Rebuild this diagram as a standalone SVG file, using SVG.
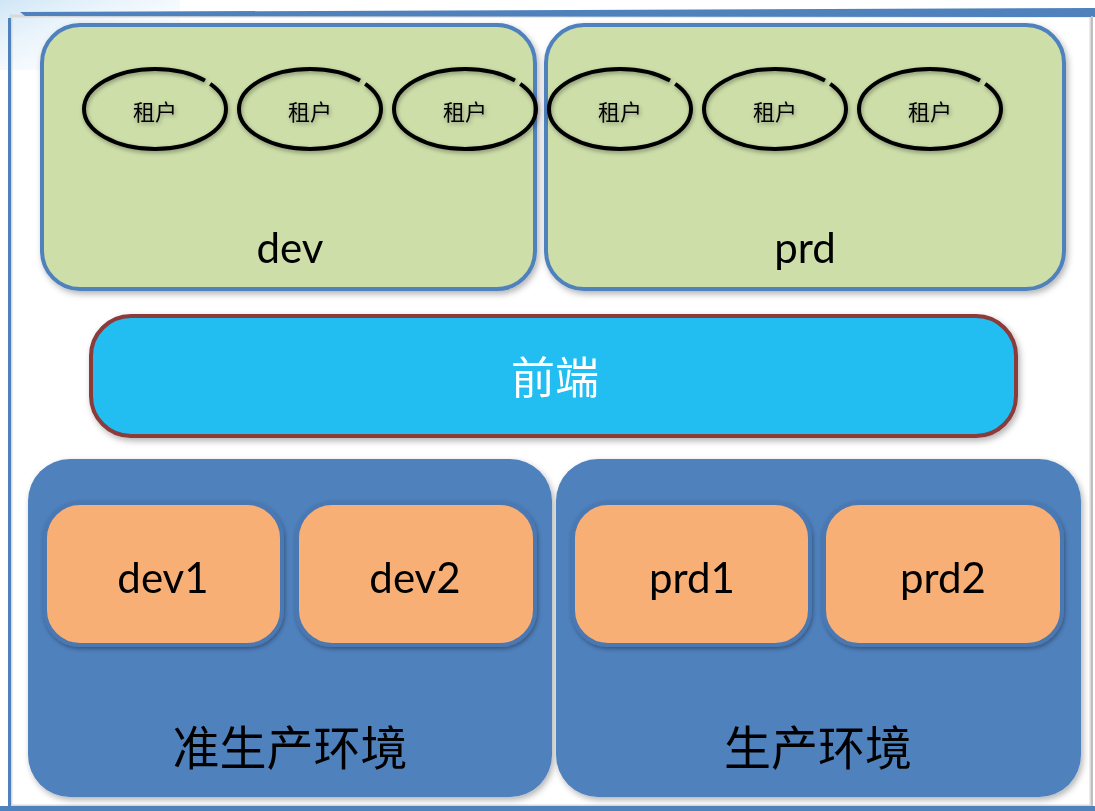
<svg xmlns="http://www.w3.org/2000/svg" width="1095" height="811" viewBox="0 0 1095 811">
<style>
.green{fill:#cddea9;stroke:#4f81bd;stroke-width:4}
.front{fill:#21bdf1;stroke:#8c3a3a;stroke-width:4}
.env{fill:#4f81bd}
.srv{fill:#f8af74;stroke:#4a78b2;stroke-width:4}
.ten{fill:none;stroke:#000;stroke-width:4;stroke-dasharray:318 6 40}
.lat{font-family:Lato,"Liberation Sans","Noto Sans CJK SC",sans-serif;text-anchor:middle;fill:#000}
.cjk{font-family:"Noto Sans CJK SC","Noto Sans",sans-serif;text-anchor:middle;fill:#000}
</style>
<defs>
<filter id="sh" x="-10%" y="-10%" width="120%" height="130%">
<feDropShadow dx="2" dy="3" stdDeviation="3" flood-color="#000" flood-opacity="0.3"/>
</filter>
<filter id="sh2" x="-10%" y="-20%" width="120%" height="140%">
<feDropShadow dx="1" dy="2" stdDeviation="2" flood-color="#000" flood-opacity="0.35"/>
</filter>
<linearGradient id="bg" x1="0" y1="0" x2="1" y2="1">
<stop offset="0" stop-color="#cfe6f6"/>
<stop offset="1" stop-color="#ffffff" stop-opacity="0"/>
</linearGradient>
</defs>
<rect width="1095" height="811" fill="#ffffff"/>
<rect x="0" y="0" width="180" height="70" fill="url(#bg)"/>
<g id="frame">
<rect x="11" y="16" width="1080" height="790" fill="none" stroke="#d9d9d9" stroke-width="3"/>
<path d="M20 12 L1095 8 L1095 17 L25 16 Z" fill="#4f81bd"/>
<rect x="8" y="18" width="3" height="793" fill="#4f81bd"/>
<rect x="0" y="806" width="1095" height="5" fill="#4f81bd"/>
<rect x="1091" y="16" width="2" height="790" fill="#bfbfbf"/>
</g>
<g id="dev" filter="url(#sh)">
<rect class="green" x="42" y="25" width="493" height="264" rx="38"/>
<text class="lat" x="290" y="263" font-size="42">dev</text>
</g>
<g id="prd" filter="url(#sh)">
<rect class="green" x="546" y="25" width="518" height="264" rx="38"/>
<text class="lat" x="805" y="263" font-size="42">prd</text>
</g>
<g id="tenants" filter="url(#sh2)">
<g id="t1"><ellipse class="ten" cx="155" cy="109" rx="71" ry="40"/><text class="cjk" x="155" y="120" font-size="22">租户</text></g>
<g id="t2"><ellipse class="ten" cx="310" cy="109" rx="71" ry="40"/><text class="cjk" x="310" y="120" font-size="22">租户</text></g>
<g id="t3"><ellipse class="ten" cx="465" cy="109" rx="71" ry="40"/><text class="cjk" x="465" y="120" font-size="22">租户</text></g>
<g id="t4"><ellipse class="ten" cx="620" cy="109" rx="71" ry="40"/><text class="cjk" x="620" y="120" font-size="22">租户</text></g>
<g id="t5"><ellipse class="ten" cx="775" cy="109" rx="71" ry="40"/><text class="cjk" x="775" y="120" font-size="22">租户</text></g>
<g id="t6"><ellipse class="ten" cx="930" cy="109" rx="71" ry="40"/><text class="cjk" x="930" y="120" font-size="22">租户</text></g>
</g>
<g id="frontend" filter="url(#sh)">
<rect class="front" x="91" y="316" width="925" height="120" rx="40"/>
<text class="cjk" x="555" y="394" font-size="44" style="fill:#fff">前端</text>
</g>
<g id="preprod" filter="url(#sh)">
<rect class="env" x="28" y="459" width="524" height="338" rx="42"/>
<text class="cjk" x="290" y="765" font-size="47">准生产环境</text>
</g>
<g id="prod" filter="url(#sh)">
<rect class="env" x="556" y="459" width="525" height="338" rx="42"/>
<text class="cjk" x="818" y="765" font-size="47">生产环境</text>
</g>
<g id="dev1" filter="url(#sh2)">
<rect class="srv" x="45" y="503" width="237" height="142" rx="35"/>
<text class="lat" x="163" y="593" font-size="42">dev1</text>
</g>
<g id="dev2" filter="url(#sh2)">
<rect class="srv" x="297" y="503" width="238" height="142" rx="35"/>
<text class="lat" x="415" y="593" font-size="42">dev2</text>
</g>
<g id="prd1" filter="url(#sh2)">
<rect class="srv" x="573" y="503" width="237" height="142" rx="35"/>
<text class="lat" x="692" y="593" font-size="42">prd1</text>
</g>
<g id="prd2" filter="url(#sh2)">
<rect class="srv" x="824" y="503" width="238" height="142" rx="35"/>
<text class="lat" x="943" y="593" font-size="42">prd2</text>
</g>
<g id="connectors"></g>
</svg>
